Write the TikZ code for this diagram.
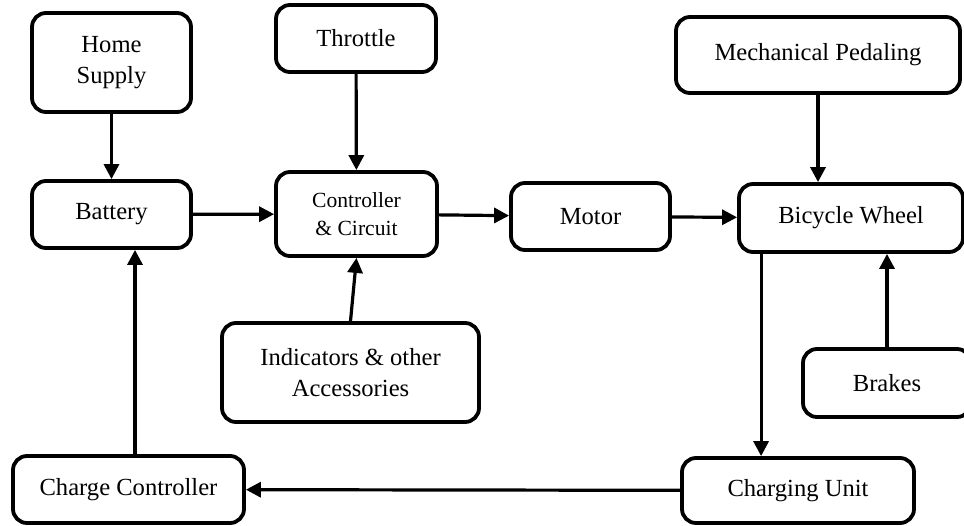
\documentclass[tikz,border=0pt]{standalone}
\usepackage{fontspec}
\setmainfont{Liberation Serif}
\usetikzlibrary{positioning, calc, arrows.meta}

\begin{document}
\begin{tikzpicture}[x=1pt, y=-1pt,
        block/.style={draw, line width=3.8pt, rounded corners=14pt, align=center, inner sep=0pt,
            font=\fontsize{24.6}{30.7}\selectfont},
        flow/.style={line width=3.2pt, -{Triangle[length=15pt, width=15pt]}}]
        \useasboundingbox (0,0) rectangle (964,525);

        % the blocks
        \node[block, minimum width=159pt, minimum height=99pt] (home) at (111.5,62.5) {Home\\Supply};
        \node[block, minimum width=160pt, minimum height=67pt] (throttle) at (356,38.5) {Throttle};
        \node[block, minimum width=284pt, minimum height=76pt] (pedal) at (818,55) {Mechanical Pedaling};
        \node[block, minimum width=159pt, minimum height=67pt] (battery) at (111.5,214.5) {Battery};
        \node[block, minimum width=161pt, minimum height=84pt,
            font=\fontsize{21.6}{27.7}\selectfont] (ctrl) at (356.5,214) {Controller\\\& Circuit};
        \node[block, minimum width=159pt, minimum height=67pt] (motor) at (590.5,216.5) {Motor};
        \node[block, minimum width=224pt, minimum height=68pt] (wheel) at (851,218) {Bicycle Wheel};
        \node[block, minimum width=257pt, minimum height=99pt] (ind) at (350.5,372.5) {Indicators \& other\\Accessories};
        \node[block, minimum width=168pt, minimum height=68pt] (brakes) at (887,383) {Brakes};
        \node[block, minimum width=231pt, minimum height=67pt] (cc) at (128.5,489.5) {Charge Controller};
        \node[block, minimum width=232pt, minimum height=65pt] (cu) at (798,490.5) {Charging Unit};

        \coordinate (w2c) at ([xshift=24pt]wheel.south west);
        \coordinate (c2b) at ([xshift=6.5pt]cc.north);

        % the arrows
        \draw[flow] (home) -- (battery);
        \draw[flow] (throttle) -- (ctrl);
        \draw[flow] (battery) -- (ctrl);
        \draw[flow] (ctrl) -- (motor);
        \draw[flow] (motor) -- (wheel);
        \draw[flow] (pedal.south) -- (pedal.south |- wheel.north);
        \draw[flow] (ind.north) -- (ctrl.south);
        \draw[flow] (brakes.north) -- (brakes.north |- wheel.south);
        \draw[flow] (w2c) -- (w2c |- cu.north);
        \draw[flow] (cu) -- (cc);
        \draw[flow] (c2b) -- (c2b |- battery.south);
    \end{tikzpicture}
\end{document}
